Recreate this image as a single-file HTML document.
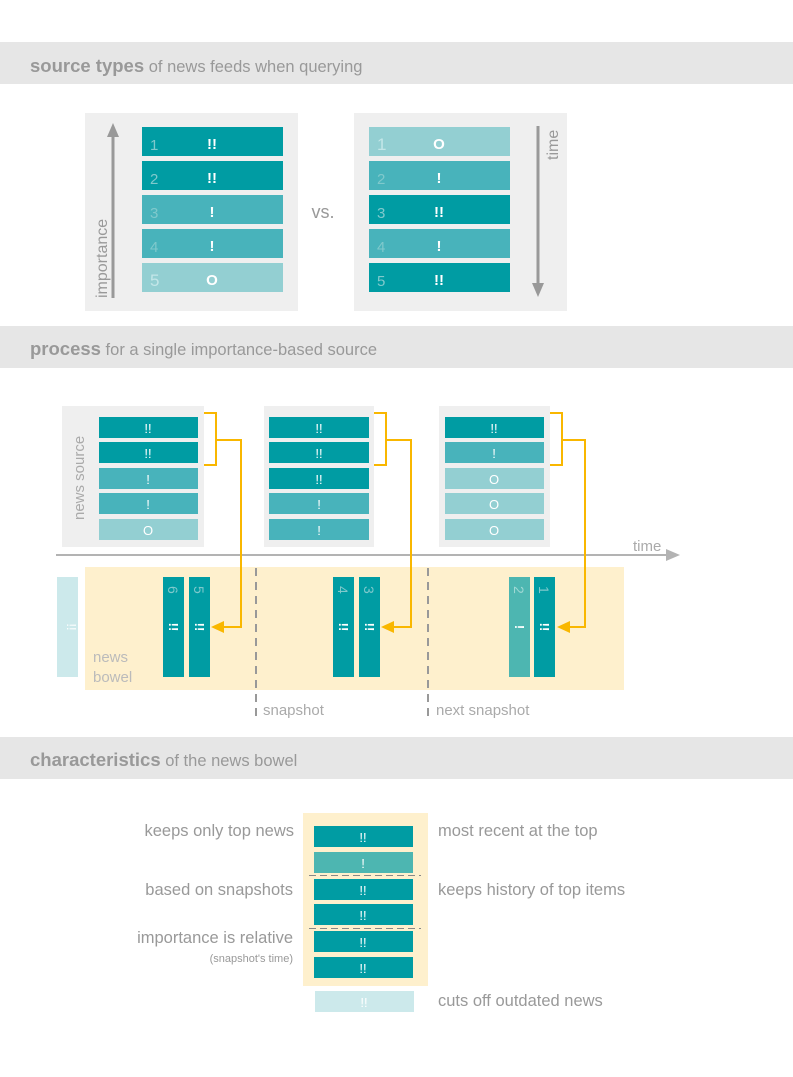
<!DOCTYPE html>
<html><head><meta charset="utf-8"><style>
html,body{margin:0;padding:0;background:#fff}
svg{display:block;font-family:"Liberation Sans",sans-serif}
.g{fill:#999}
.w{fill:#fff;font-size:15px;text-anchor:middle}
.n{fill:#7fc9cc;font-size:15px}
.ws{fill:#fff;font-size:13px;text-anchor:middle}
</style></head><body>
<svg width="793" height="1077" viewBox="0 0 793 1077" xmlns="http://www.w3.org/2000/svg">
<!-- headers -->
<rect x="0" y="42" width="793" height="42" fill="#e6e6e6"/>
<text x="30" y="72" class="g" font-size="16.5"><tspan font-weight="bold" font-size="18.5">source types</tspan> of news feeds when querying</text>
<rect x="0" y="326" width="793" height="42" fill="#e6e6e6"/>
<text x="30" y="355" class="g" font-size="16.5"><tspan font-weight="bold" font-size="18.5">process</tspan> for a single importance-based source</text>
<rect x="0" y="737" width="793" height="42" fill="#e6e6e6"/>
<text x="30" y="766" class="g" font-size="16.5"><tspan font-weight="bold" font-size="18.5">characteristics</tspan> of the news bowel</text>

<!-- top section -->
<rect x="85" y="113" width="213" height="198" fill="#efefef"/>
<rect x="354" y="113" width="213" height="198" fill="#efefef"/>
<g>
<rect x="142" y="127" width="141" height="29" fill="#009ca3"/><text x="150" y="150" class="n" font-size="17">1</text><text x="212" y="149" class="w" font-size="18" font-weight="bold">!!</text>
<rect x="142" y="161" width="141" height="29" fill="#009ca3"/><text x="150" y="184" class="n" font-size="17">2</text><text x="212" y="183" class="w" font-size="18" font-weight="bold">!!</text>
<rect x="142" y="195" width="141" height="29" fill="#48b3bb"/><text x="150" y="218" class="n" font-size="17">3</text><text x="212" y="217" class="w" font-size="18" font-weight="bold">!</text>
<rect x="142" y="229" width="141" height="29" fill="#48b3bb"/><text x="150" y="252" class="n" font-size="17">4</text><text x="212" y="251" class="w" font-size="18" font-weight="bold">!</text>
<rect x="142" y="263" width="141" height="29" fill="#93cfd2"/><text x="150" y="286" font-size="17" fill="#c3e6e8">5</text><text x="212" y="285" class="w" font-size="18" font-weight="bold">O</text>
</g>
<line x1="113" y1="298" x2="113" y2="135" stroke="#999" stroke-width="3"/>
<path d="M107,137 L113,123 L119,137 z" fill="#999"/>
<text transform="translate(107,298) rotate(-90)" class="g" font-size="16">importance</text>
<text x="323" y="218" class="g" font-size="18" text-anchor="middle">vs.</text>
<g>
<rect x="369" y="127" width="141" height="29" fill="#93cfd2"/><text x="377" y="150" font-size="17" fill="#c3e6e8">1</text><text x="439" y="149" class="w" font-size="18" font-weight="bold">O</text>
<rect x="369" y="161" width="141" height="29" fill="#48b3bb"/><text x="377" y="184" class="n" font-size="17">2</text><text x="439" y="183" class="w" font-size="18" font-weight="bold">!</text>
<rect x="369" y="195" width="141" height="29" fill="#009ca3"/><text x="377" y="218" class="n" font-size="17">3</text><text x="439" y="217" class="w" font-size="18" font-weight="bold">!!</text>
<rect x="369" y="229" width="141" height="29" fill="#48b3bb"/><text x="377" y="252" class="n" font-size="17">4</text><text x="439" y="251" class="w" font-size="18" font-weight="bold">!</text>
<rect x="369" y="263" width="141" height="29" fill="#009ca3"/><text x="377" y="286" class="n" font-size="17">5</text><text x="439" y="285" class="w" font-size="18" font-weight="bold">!!</text>
</g>
<line x1="538" y1="126" x2="538" y2="285" stroke="#999" stroke-width="3"/>
<path d="M532,283 L538,297 L544,283 z" fill="#999"/>
<text transform="translate(558,160) rotate(-90)" class="g" font-size="16">time</text>

<!-- process -->
<rect x="62" y="406" width="142" height="141" fill="#efefef"/>
<rect x="264" y="406" width="110" height="141" fill="#efefef"/>
<rect x="439" y="406" width="111" height="141" fill="#efefef"/>
<text transform="translate(84,520) rotate(-90)" font-size="15" fill="#aaa">news source</text>
<g>
<rect x="99" y="417" width="99" height="21" fill="#009ca3"/><text x="148" y="433" class="ws">!!</text>
<rect x="99" y="442" width="99" height="21" fill="#009ca3"/><text x="148" y="458" class="ws">!!</text>
<rect x="99" y="468" width="99" height="21" fill="#48b3bb"/><text x="148" y="484" class="ws">!</text>
<rect x="99" y="493" width="99" height="21" fill="#48b3bb"/><text x="148" y="509" class="ws">!</text>
<rect x="99" y="519" width="99" height="21" fill="#93cfd2"/><text x="148" y="535" class="ws">O</text>

<rect x="269" y="417" width="100" height="21" fill="#009ca3"/><text x="319" y="433" class="ws">!!</text>
<rect x="269" y="442" width="100" height="21" fill="#009ca3"/><text x="319" y="458" class="ws">!!</text>
<rect x="269" y="468" width="100" height="21" fill="#009ca3"/><text x="319" y="484" class="ws">!!</text>
<rect x="269" y="493" width="100" height="21" fill="#48b3bb"/><text x="319" y="509" class="ws">!</text>
<rect x="269" y="519" width="100" height="21" fill="#48b3bb"/><text x="319" y="535" class="ws">!</text>

<rect x="445" y="417" width="99" height="21" fill="#009ca3"/><text x="494" y="433" class="ws">!!</text>
<rect x="445" y="442" width="99" height="21" fill="#48b3bb"/><text x="494" y="458" class="ws">!</text>
<rect x="445" y="468" width="99" height="21" fill="#93cfd2"/><text x="494" y="484" class="ws">O</text>
<rect x="445" y="493" width="99" height="21" fill="#93cfd2"/><text x="494" y="509" class="ws">O</text>
<rect x="445" y="519" width="99" height="21" fill="#93cfd2"/><text x="494" y="535" class="ws">O</text>
</g>
<line x1="56" y1="555" x2="668" y2="555" stroke="#b3b3b3" stroke-width="2"/>
<path d="M666,549 L680,555 L666,561 z" fill="#b3b3b3"/>
<text x="633" y="551" fill="#aaa" font-size="15">time</text>

<rect x="85" y="567" width="539" height="123" fill="#fef0cd"/>
<rect x="57" y="577" width="21" height="100" fill="#cce9eb"/>
<text transform="translate(67,627) rotate(90)" class="ws" font-size="12">!!</text>
<text x="93" y="662" fill="#bbb" font-size="15">news</text>
<text x="93" y="682" fill="#bbb" font-size="15">bowel</text>
<line x1="256" y1="568" x2="256" y2="722" stroke="#999" stroke-width="2" stroke-dasharray="8,6"/>
<line x1="428" y1="568" x2="428" y2="722" stroke="#999" stroke-width="2" stroke-dasharray="8,6"/>
<text x="263" y="715" fill="#aaa" font-size="15">snapshot</text>
<text x="436" y="715" fill="#aaa" font-size="15">next snapshot</text>

<g font-size="14">
<rect x="163" y="577" width="21" height="100" fill="#009ca3"/>
<rect x="189" y="577" width="21" height="100" fill="#009ca3"/>
<rect x="333" y="577" width="21" height="100" fill="#009ca3"/>
<rect x="359" y="577" width="21" height="100" fill="#009ca3"/>
<rect x="509" y="577" width="21" height="100" fill="#4db6b1"/>
<rect x="534" y="577" width="21" height="100" fill="#009ca3"/>
<text transform="translate(168,586) rotate(90)" fill="#7fc9cc">6</text>
<text transform="translate(194,586) rotate(90)" fill="#7fc9cc">5</text>
<text transform="translate(338,586) rotate(90)" fill="#7fc9cc">4</text>
<text transform="translate(364,586) rotate(90)" fill="#7fc9cc">3</text>
<text transform="translate(514,586) rotate(90)" fill="#9fd8d4">2</text>
<text transform="translate(539,586) rotate(90)" fill="#7fc9cc">1</text>
<text transform="translate(169,627) rotate(90)" class="ws" font-weight="bold">!!</text>
<text transform="translate(195,627) rotate(90)" class="ws" font-weight="bold">!!</text>
<text transform="translate(339,627) rotate(90)" class="ws" font-weight="bold">!!</text>
<text transform="translate(365,627) rotate(90)" class="ws" font-weight="bold">!!</text>
<text transform="translate(515,627) rotate(90)" class="ws" font-weight="bold">!</text>
<text transform="translate(540,627) rotate(90)" class="ws" font-weight="bold">!!</text>
</g>

<g fill="none" stroke="#f9b700" stroke-width="2">
<path d="M204,413 H216 V465 H204 M216,440 H241 V627 H222"/>
<path d="M374,413 H386 V465 H374 M386,440 H411 V627 H392"/>
<path d="M550,413 H562 V465 H550 M562,440 H585 V627 H568"/>
</g>
<g fill="#f9b700">
<path d="M211,627 L224,621 L224,633 z"/>
<path d="M381,627 L394,621 L394,633 z"/>
<path d="M557,627 L570,621 L570,633 z"/>
</g>

<!-- characteristics -->
<rect x="303" y="813" width="125" height="173" fill="#fef0cd"/>
<rect x="314" y="826" width="99" height="21" fill="#009ca3"/><text x="363" y="842" class="ws">!!</text>
<rect x="314" y="852" width="99" height="21" fill="#4db6b1"/><text x="363" y="868" class="ws">!</text>
<rect x="314" y="879" width="99" height="21" fill="#009ca3"/><text x="363" y="895" class="ws">!!</text>
<rect x="314" y="904" width="99" height="21" fill="#009ca3"/><text x="363" y="920" class="ws">!!</text>
<rect x="314" y="931" width="99" height="21" fill="#009ca3"/><text x="363" y="947" class="ws">!!</text>
<rect x="314" y="957" width="99" height="21" fill="#009ca3"/><text x="363" y="973" class="ws">!!</text>
<rect x="315" y="991" width="99" height="21" fill="#cce9eb"/><text x="364" y="1007" class="ws">!!</text>
<line x1="309" y1="875.5" x2="421" y2="875.5" stroke="#888" stroke-width="1" stroke-dasharray="7,4"/>
<line x1="309" y1="928.5" x2="421" y2="928.5" stroke="#888" stroke-width="1" stroke-dasharray="7,4"/>
<g font-size="16.5" fill="#999">
<text x="294" y="836" text-anchor="end">keeps only top news</text>
<text x="293" y="895" text-anchor="end">based on snapshots</text>
<text x="293" y="943" text-anchor="end">importance is relative</text>
<text x="293" y="962" text-anchor="end" font-size="11">(snapshot's time)</text>
<text x="438" y="836">most recent at the top</text>
<text x="438" y="895">keeps history of top items</text>
<text x="438" y="1006">cuts off outdated news</text>
</g>
</svg>
</body></html>
